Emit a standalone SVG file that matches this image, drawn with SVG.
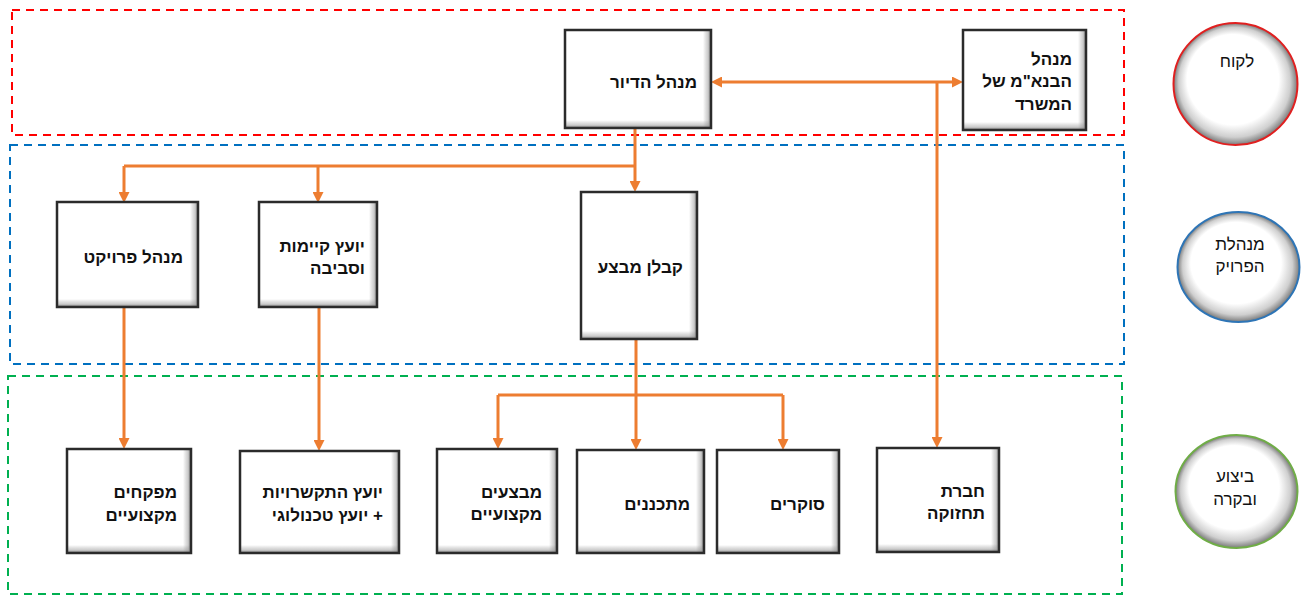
<svg xmlns="http://www.w3.org/2000/svg" width="1305" height="595" viewBox="0 0 1305 595">
<style>
.zone{fill:none;stroke-width:2;stroke-dasharray:8 6}
.bf{fill:#ffffff}
.bs{fill:none;stroke:#2b2b2b;stroke-width:2.5}
.sr{fill:url(#gr)}
.sb{fill:url(#gb)}
.t{font-family:"Liberation Sans",Arial,"DejaVu Sans",sans-serif;font-weight:bold;font-size:17px;fill:#111}
.ct{font-family:"Liberation Sans",Arial,"DejaVu Sans",sans-serif;font-size:17px;fill:#111;text-anchor:middle}
.c{fill:none;stroke:#ed7d31;stroke-width:3}
.arr{marker-end:url(#ah)}
</style>
<defs>
<marker id="ah" viewBox="0 0 11 11" refX="5" refY="5.5" markerWidth="11" markerHeight="11" markerUnits="userSpaceOnUse" orient="auto-start-reverse">
<path d="M0,0 L11,5.5 L0,11 Z" fill="#ed7d31"/>
</marker>
<linearGradient id="gr" x1="0" y1="0" x2="1" y2="0">
<stop offset="0" stop-color="#808080" stop-opacity="0"/>
<stop offset="0.6" stop-color="#909090" stop-opacity="0.45"/>
<stop offset="1" stop-color="#6a6a6a" stop-opacity="0.85"/>
</linearGradient>
<linearGradient id="gb" x1="0" y1="0" x2="0" y2="1">
<stop offset="0" stop-color="#808080" stop-opacity="0"/>
<stop offset="0.6" stop-color="#909090" stop-opacity="0.45"/>
<stop offset="1" stop-color="#6a6a6a" stop-opacity="0.85"/>
</linearGradient>
<radialGradient id="cg" cx="0.5" cy="0.5" r="0.5" fx="0.42" fy="0.36">
<stop offset="0" stop-color="#ffffff"/>
<stop offset="0.74" stop-color="#ffffff"/>
<stop offset="0.9" stop-color="#cfcfcf"/>
<stop offset="1" stop-color="#7a7a7a"/>
</radialGradient>
</defs>
<rect width="1305" height="595" fill="#ffffff"/>
<g id="zones">
<rect class="zone" x="12" y="10" width="1112" height="125" stroke="#ff0000"/>
<rect class="zone" x="10" y="145" width="1114" height="219" stroke="#0070c0"/>
<rect class="zone" x="8" y="376" width="1114" height="218" stroke="#00b050"/>
</g>
<g id="connectors">
<path class="c" d="M717,82 H957" marker-start="url(#ah)" marker-end="url(#ah)"/>
<path class="c arr" d="M937,82 V442"/>
<path class="c" d="M635,128 V166 M124,166 H635"/>
<path class="c arr" d="M124,166 V197"/>
<path class="c arr" d="M318,166 V197"/>
<path class="c arr" d="M635,166 V186"/>
<path class="c arr" d="M124,307 V443"/>
<path class="c arr" d="M319,307 V445"/>
<path class="c" d="M636,339 V395 M498,395 H783"/>
<path class="c arr" d="M498,395 V443"/>
<path class="c arr" d="M636,395 V444"/>
<path class="c arr" d="M783,395 V444"/>
</g>
<g id="n-housing">
<rect class="bf" x="565" y="30" width="146" height="98"/>
<rect class="sr" x="703" y="30" width="8" height="98"/>
<rect class="sb" x="565" y="120" width="146" height="8"/>
<rect class="bs" x="565" y="30" width="146" height="98"/>
<text class="t" direction="rtl" x="697" y="88">מנהל הדיור</text>
</g>
<g id="n-binam">
<rect class="bf" x="963" y="30" width="123" height="100"/>
<rect class="sr" x="1078" y="30" width="8" height="100"/>
<rect class="sb" x="963" y="122" width="123" height="8"/>
<rect class="bs" x="963" y="30" width="123" height="100"/>
<text class="t" direction="rtl" x="1072" y="65">מנהל</text>
<text class="t" direction="rtl" x="1072" y="87">הבנא&quot;מ של</text>
<text class="t" direction="rtl" x="1072" y="110">המשרד</text>
</g>
<g id="n-pm">
<rect class="bf" x="57" y="202" width="141" height="105"/>
<rect class="sr" x="190" y="202" width="8" height="105"/>
<rect class="sb" x="57" y="299" width="141" height="8"/>
<rect class="bs" x="57" y="202" width="141" height="105"/>
<text class="t" direction="rtl" x="183" y="263">מנהל פרויקט</text>
</g>
<g id="n-sustain">
<rect class="bf" x="259" y="202" width="118" height="105"/>
<rect class="sr" x="369" y="202" width="8" height="105"/>
<rect class="sb" x="259" y="299" width="118" height="8"/>
<rect class="bs" x="259" y="202" width="118" height="105"/>
<text class="t" direction="rtl" x="365" y="252">יועץ קיימות</text>
<text class="t" direction="rtl" x="365" y="274">וסביבה</text>
</g>
<g id="n-contractor">
<rect class="bf" x="581" y="192" width="116" height="147"/>
<rect class="sr" x="689" y="192" width="8" height="147"/>
<rect class="sb" x="581" y="331" width="116" height="8"/>
<rect class="bs" x="581" y="192" width="116" height="147"/>
<text class="t" direction="rtl" x="683" y="273">קבלן מבצע</text>
</g>
<g id="n-inspectors">
<rect class="bf" x="67" y="449" width="124" height="104"/>
<rect class="sr" x="183" y="449" width="8" height="104"/>
<rect class="sb" x="67" y="545" width="124" height="8"/>
<rect class="bs" x="67" y="449" width="124" height="104"/>
<text class="t" direction="rtl" x="177" y="498">מפקחים</text>
<text class="t" direction="rtl" x="177" y="521">מקצועיים</text>
</g>
<g id="n-consult">
<rect class="bf" x="240" y="451" width="159" height="102"/>
<rect class="sr" x="391" y="451" width="8" height="102"/>
<rect class="sb" x="240" y="545" width="159" height="8"/>
<rect class="bs" x="240" y="451" width="159" height="102"/>
<text class="t" direction="rtl" x="383" y="498">יועץ התקשרויות</text>
<text class="t" direction="rtl" x="383" y="521">+ יועץ טכנולוגי</text>
</g>
<g id="n-executors">
<rect class="bf" x="437" y="449" width="120" height="104"/>
<rect class="sr" x="549" y="449" width="8" height="104"/>
<rect class="sb" x="437" y="545" width="120" height="8"/>
<rect class="bs" x="437" y="449" width="120" height="104"/>
<text class="t" direction="rtl" x="542" y="498">מבצעים</text>
<text class="t" direction="rtl" x="542" y="520">מקצועיים</text>
</g>
<g id="n-planners">
<rect class="bf" x="577" y="450" width="127" height="103"/>
<rect class="sr" x="696" y="450" width="8" height="103"/>
<rect class="sb" x="577" y="545" width="127" height="8"/>
<rect class="bs" x="577" y="450" width="127" height="103"/>
<text class="t" direction="rtl" x="690" y="510">מתכננים</text>
</g>
<g id="n-surveyors">
<rect class="bf" x="717" y="450" width="122" height="103"/>
<rect class="sr" x="831" y="450" width="8" height="103"/>
<rect class="sb" x="717" y="545" width="122" height="8"/>
<rect class="bs" x="717" y="450" width="122" height="103"/>
<text class="t" direction="rtl" x="825" y="510">סוקרים</text>
</g>
<g id="n-maint">
<rect class="bf" x="877" y="448" width="122" height="104"/>
<rect class="sr" x="991" y="448" width="8" height="104"/>
<rect class="sb" x="877" y="544" width="122" height="8"/>
<rect class="bs" x="877" y="448" width="122" height="104"/>
<text class="t" direction="rtl" x="985" y="497">חברת</text>
<text class="t" direction="rtl" x="985" y="519">תחזוקה</text>
</g>
<g id="c-client">
<ellipse cx="1235.5" cy="84" rx="62" ry="61" fill="url(#cg)" stroke="#e02020" stroke-width="2"/>
<text class="ct" x="1237" y="67">לקוח</text>
</g>
<g id="c-pmo">
<ellipse cx="1238.5" cy="267" rx="61" ry="55" fill="url(#cg)" stroke="#2e75b6" stroke-width="2"/>
<text class="ct" x="1240" y="250">מנהלת</text>
<text class="ct" x="1240" y="272">הפרויק</text>
</g>
<g id="c-exec">
<ellipse cx="1236.5" cy="491.5" rx="61" ry="56.5" fill="url(#cg)" stroke="#70ad47" stroke-width="2"/>
<text class="ct" x="1235" y="482">ביצוע</text>
<text class="ct" x="1235" y="505">ובקרה</text>
</g>
</svg>
